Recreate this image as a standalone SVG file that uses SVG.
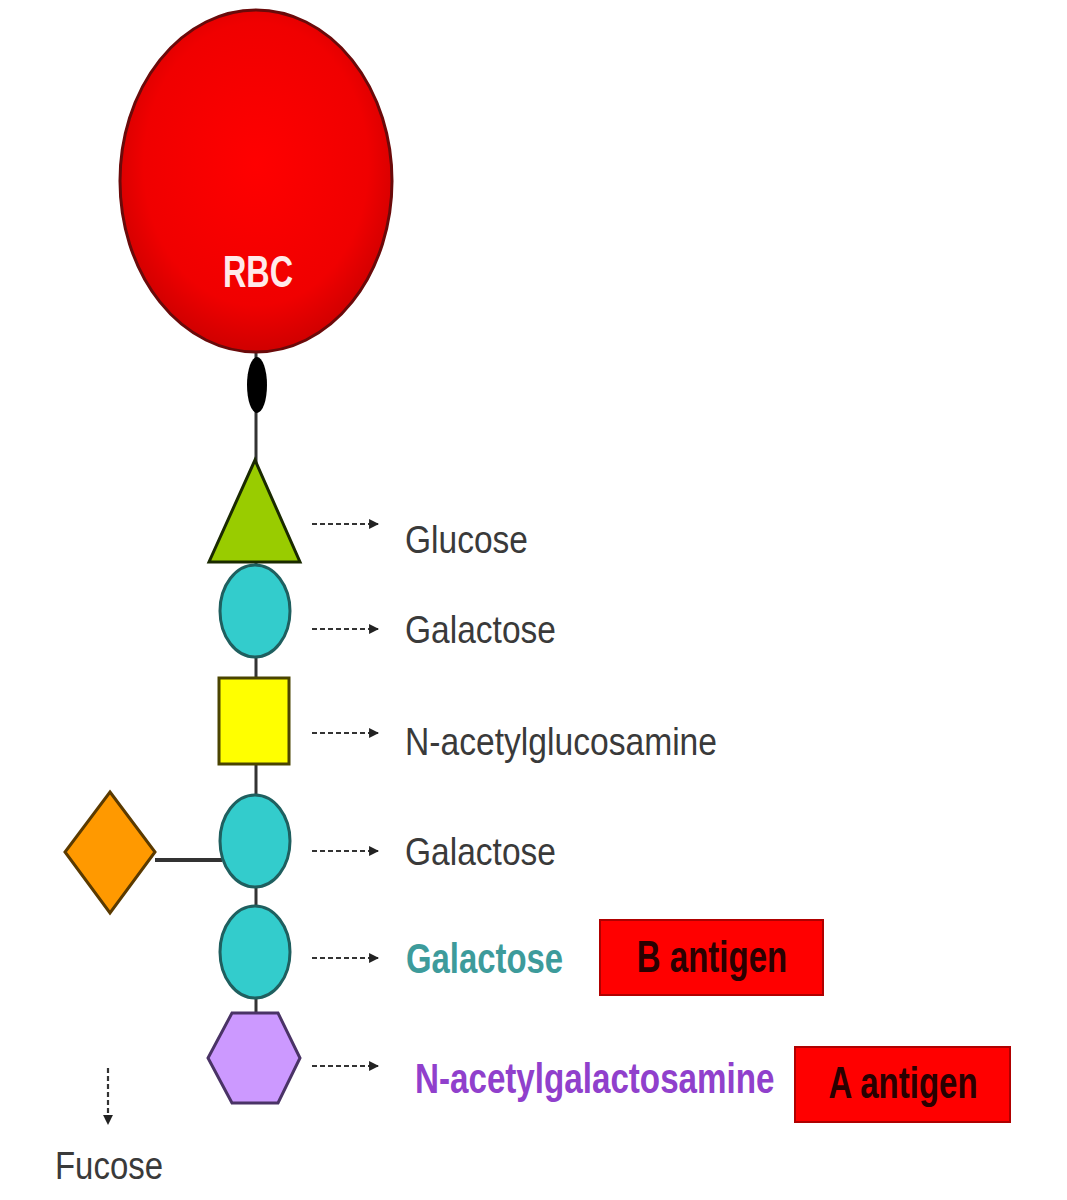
<svg xmlns="http://www.w3.org/2000/svg" width="1067" height="1200" viewBox="0 0 1067 1200">
<defs>
<radialGradient id="rbcGrad" cx="50%" cy="45%" r="55%">
<stop offset="0" stop-color="#ff0000"/>
<stop offset="0.75" stop-color="#f00000"/>
<stop offset="1" stop-color="#cf0000"/>
</radialGradient>
<marker id="ah" viewBox="0 0 10 10" refX="9" refY="5" markerWidth="4.5" markerHeight="4.5" orient="auto" markerUnits="strokeWidth">
<path d="M0,0 L10,5 L0,10 z" fill="#222"/>
</marker>
</defs>
<style>
.bond{stroke:#333;stroke-width:3;fill:none}
.dot{stroke:#333;stroke-width:2.2;stroke-dasharray:5 3;fill:none;marker-end:url(#ah)}
.lbl{font-family:"Liberation Sans",Arial,sans-serif;font-size:39px;fill:#3a3a3a}
.bold{font-family:"Liberation Sans",Arial,sans-serif;font-weight:bold}
.gal{fill:#33cccc;stroke:#1f5f5f;stroke-width:3}
.ag{fill:#ff0000;stroke:#b00000;stroke-width:2}
.agt{font-family:"Liberation Sans",Arial,sans-serif;font-weight:bold;font-size:44px;fill:#2a0000;text-anchor:middle}
</style>
<rect width="1067" height="1200" fill="#ffffff"/>
<g id="connectors">
<line class="bond" x1="256" y1="350" x2="256" y2="1013"/>
<line class="bond" x1="155" y1="860" x2="222" y2="860" style="stroke-width:4"/>
<line class="dot" x1="312" y1="524" x2="378" y2="524"/>
<line class="dot" x1="312" y1="629" x2="378" y2="629"/>
<line class="dot" x1="312" y1="733" x2="378" y2="733"/>
<line class="dot" x1="312" y1="851" x2="378" y2="851"/>
<line class="dot" x1="312" y1="958" x2="378" y2="958"/>
<line class="dot" x1="312" y1="1066" x2="378" y2="1066"/>
<line class="dot" x1="108" y1="1068" x2="108" y2="1124"/>
</g>
<g id="rbc">
<ellipse cx="256" cy="181" rx="136" ry="171" fill="url(#rbcGrad)" stroke="#6a0a0a" stroke-width="3"/>
<text x="258" y="287" class="bold" font-size="44" fill="#ffeaea" text-anchor="middle" textLength="70" lengthAdjust="spacingAndGlyphs">RBC</text>
</g>
<g id="anchor">
<ellipse cx="257" cy="385" rx="10" ry="28" fill="#000"/>
</g>
<g id="glucose">
<polygon points="255,460 300,562 209,562" fill="#99cc00" stroke="#1a2a00" stroke-width="3"/>
<text x="405" y="553" class="lbl" textLength="123" lengthAdjust="spacingAndGlyphs">Glucose</text>
</g>
<g id="galactose1">
<ellipse cx="255" cy="611" rx="35" ry="46" class="gal"/>
<text x="405" y="643" class="lbl" textLength="151" lengthAdjust="spacingAndGlyphs">Galactose</text>
</g>
<g id="nacetylglucosamine">
<rect x="219" y="678" width="70" height="86" fill="#ffff00" stroke="#4a4400" stroke-width="3"/>
<text x="405" y="755" class="lbl" textLength="312" lengthAdjust="spacingAndGlyphs">N-acetylglucosamine</text>
</g>
<g id="galactose2">
<ellipse cx="255" cy="841" rx="35" ry="46" class="gal"/>
<text x="405" y="865" class="lbl" textLength="151" lengthAdjust="spacingAndGlyphs">Galactose</text>
</g>
<g id="fucose">
<polygon points="110,792 155,852 110,913 65,852" fill="#ff9900" stroke="#5a3a00" stroke-width="3"/>
<text x="55" y="1179" class="lbl" font-size="41" textLength="108" lengthAdjust="spacingAndGlyphs">Fucose</text>
</g>
<g id="galactose3">
<ellipse cx="255" cy="952" rx="35" ry="46" class="gal"/>
<text x="406" y="973" class="bold" font-size="42" fill="#3d9b9b" textLength="157" lengthAdjust="spacingAndGlyphs">Galactose</text>
</g>
<g id="b-antigen">
<rect x="600" y="920" width="223" height="75" class="ag"/>
<text class="agt" transform="translate(712,972) scale(0.75,1)" x="0" y="0">B antigen</text>
</g>
<g id="nacetylgalactosamine">
<polygon points="232,1013 278,1013 300,1058 278,1103 232,1103 208,1058" fill="#cc99ff" stroke="#4a3366" stroke-width="3"/>
<text class="bold" font-size="42" fill="#9040cc" transform="translate(415,1093) scale(0.79,1)" x="0" y="0">N-acetylgalactosamine</text>
</g>
<g id="a-antigen">
<rect x="795" y="1047" width="215" height="75" class="ag"/>
<text class="agt" transform="translate(903,1098) scale(0.75,1)" x="0" y="0">A antigen</text>
</g>
</svg>
